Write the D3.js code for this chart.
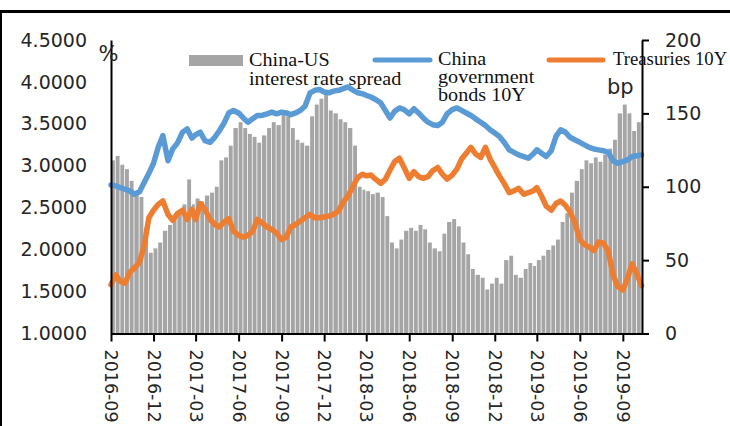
<!DOCTYPE html>
<html>
<head>
<meta charset="utf-8">
<script src="https://cdn.jsdelivr.net/npm/d3@7"></script>
<style>
  html, body { margin: 0; padding: 0; background: #fff; }
  svg { display: block; }
</style>
</head>
<body>
<script>
// Quarter labels on the date axis
const tickLabels = ["2016-09", "2016-12", "2017-03", "2017-06", "2017-09", "2017-12",
  "2018-03", "2018-06", "2018-09", "2018-12", "2019-03", "2019-06", "2019-09"];

// Left-axis ticks (%) and right-axis ticks (bp)
const leftTicks = [1.0, 1.5, 2.0, 2.5, 3.0, 3.5, 4.0, 4.5];
const rightTicks = [0, 50, 100, 150, 200];

// China government bonds 10Y yield, %, sampled on the 1st, 11th and 21st of each month
const china10y = [
  2.77, 2.76, 2.74, 2.72, 2.70, 2.66, 2.69, 2.80, 2.91, 3.03, 3.22, 3.36,
  3.06, 3.20, 3.27, 3.40, 3.44, 3.33, 3.37, 3.40, 3.30, 3.28, 3.34, 3.42,
  3.51, 3.63, 3.66, 3.63, 3.57, 3.52, 3.56, 3.60, 3.60, 3.62, 3.64, 3.62,
  3.64, 3.63, 3.61, 3.63, 3.66, 3.71, 3.87, 3.90, 3.91, 3.88, 3.87, 3.89,
  3.90, 3.92, 3.94, 3.90, 3.87, 3.86, 3.84, 3.82, 3.79, 3.75, 3.66, 3.57,
  3.65, 3.69, 3.67, 3.62, 3.68, 3.63, 3.57, 3.52, 3.49, 3.48, 3.52, 3.62,
  3.67, 3.69, 3.66, 3.63, 3.60, 3.56, 3.52, 3.48, 3.43, 3.39, 3.35, 3.28,
  3.19, 3.16, 3.13, 3.11, 3.09, 3.14, 3.19, 3.15, 3.11, 3.18, 3.35, 3.43,
  3.40, 3.34, 3.31, 3.28, 3.25, 3.22, 3.20, 3.19, 3.18, 3.16, 3.06, 3.03,
  3.05, 3.07, 3.11, 3.12, 3.13
];

// US Treasuries 10Y yield, %, same dates
const us10y = [
  1.58, 1.70, 1.62, 1.60, 1.73, 1.78, 1.85, 2.05, 2.38, 2.47, 2.54, 2.58,
  2.42, 2.35, 2.43, 2.47, 2.36, 2.48, 2.36, 2.55, 2.48, 2.36, 2.30, 2.27,
  2.33, 2.37, 2.22, 2.17, 2.15, 2.17, 2.22, 2.36, 2.32, 2.27, 2.24, 2.20,
  2.12, 2.15, 2.27, 2.30, 2.34, 2.38, 2.42, 2.38, 2.38, 2.39, 2.40, 2.42,
  2.46, 2.57, 2.64, 2.76, 2.86, 2.90, 2.88, 2.89, 2.84, 2.79, 2.84, 2.95,
  3.05, 3.09, 2.98, 2.85, 2.93, 2.87, 2.85, 2.87, 2.94, 2.98, 2.90, 2.84,
  2.89, 2.96, 3.08, 3.15, 3.22, 3.14, 3.10, 3.22, 3.08, 2.98, 2.88, 2.79,
  2.68, 2.70, 2.73, 2.66, 2.68, 2.70, 2.74, 2.64, 2.52, 2.47, 2.55, 2.58,
  2.53, 2.45, 2.33, 2.12, 2.06, 2.03, 1.99, 2.09, 2.08, 1.98, 1.70, 1.56,
  1.52, 1.66, 1.83, 1.71, 1.57
];

// China-US 10Y interest rate spread, bp, same dates
const spreadBp = [
  118, 121, 115, 112, 104, 95, 93, 72, 55, 58, 62, 70,
  74, 80, 82, 88, 105, 88, 92, 90, 94, 96, 100, 118,
  120, 128, 140, 144, 140, 136, 134, 130, 135, 140, 144, 142,
  150, 148, 140, 132, 130, 128, 148, 156, 160, 164, 152, 150,
  146, 144, 140, 128, 100, 98, 97, 95, 96, 93, 80, 62,
  58, 64, 70, 72, 70, 74, 71, 62, 58, 56, 68, 76,
  78, 73, 62, 54, 44, 40, 38, 30, 34, 38, 34, 50,
  53, 40, 38, 44, 48, 46, 50, 53, 57, 60, 64, 76,
  82, 96, 104, 112, 118, 116, 120, 117, 122, 126, 132, 150,
  156, 150, 138, 144, 146
];

// Observation dates: 1st, 11th and 21st of each month from Sep 2016
const dates = d3.utcMonth.range(new Date(Date.UTC(2016, 8, 1)), new Date(Date.UTC(2019, 10, 1)))
  .flatMap(m => [1, 11, 21].map(day => new Date(Date.UTC(m.getUTCFullYear(), m.getUTCMonth(), day))))
  .slice(0, china10y.length);

const W = 730, H = 426;
const axisFont = "'DejaVu Sans', Verdana, sans-serif";
const legendFont = "'Liberation Serif', 'Times New Roman', serif";
const textColor = "#262626";
const gray = "#a5a5a5", blue = "#5b9bd5", orange = "#ed7d31";

const svg = d3.select("body").append("svg")
  .attr("width", W).attr("height", H);

// Frame: heavy top rule and thin left rule
svg.append("line").attr("x1", 0).attr("x2", W).attr("y1", 11.5).attr("y2", 11.5)
  .attr("stroke", "#000").attr("stroke-width", 3);
svg.append("line").attr("x1", 1).attr("x2", 1).attr("y1", 10).attr("y2", H)
  .attr("stroke", "#000").attr("stroke-width", 2);

const x = d3.scaleUtc()
  .domain([new Date(Date.UTC(2016, 8, 1)), new Date(Date.UTC(2019, 9, 12))])
  .range([111, 642]);
const yL = d3.scaleLinear().domain([1, 4.5]).range([333.5, 40]);
const yR = d3.scaleLinear().domain([0, 200]).range([333.5, 40]);

// Spread bars on the right axis
const rows = dates.map((d, i) => ({ date: d, cn: china10y[i], us: us10y[i], sp: spreadBp[i] }));
svg.append("g").selectAll("rect").data(rows).join("rect")
  .attr("x", d => x(d.date))
  .attr("width", (d, i) => {
    const next = i < rows.length - 1 ? x(rows[i + 1].date) : x.range()[1];
    return Math.max(0.5, next - x(d.date) - 0.8);
  })
  .attr("y", d => yR(d.sp))
  .attr("height", d => yR(0) - yR(d.sp))
  .attr("fill", gray);

// Yield lines on the left axis
const lineCn = d3.line().x(d => x(d.date)).y(d => yL(d.cn));
const lineUs = d3.line().x(d => x(d.date)).y(d => yL(d.us));
svg.append("path").datum(rows).attr("d", lineCn)
  .attr("fill", "none").attr("stroke", blue).attr("stroke-width", 5.5)
  .attr("stroke-linejoin", "round").attr("stroke-linecap", "round");
svg.append("path").datum(rows).attr("d", lineUs)
  .attr("fill", "none").attr("stroke", orange).attr("stroke-width", 5.5)
  .attr("stroke-linejoin", "round").attr("stroke-linecap", "round");

// Axes
function styleAxis(g, size) {
  g.selectAll(".domain").attr("stroke", "#000").attr("stroke-width", 2);
  g.selectAll(".tick line").attr("stroke", "#000").attr("stroke-width", 2);
  g.selectAll(".tick text").attr("fill", textColor)
    .style("font-family", axisFont).style("font-size", size);
}

const parseMonth = d3.utcParse("%Y-%m");
const xAxis = svg.append("g").attr("transform", "translate(0,333.5)")
  .call(d3.axisBottom(x)
    .tickValues(tickLabels.map(parseMonth))
    .tickFormat(d3.utcFormat("%Y-%m"))
    .tickSize(8).tickSizeOuter(0));
styleAxis(xAxis, "17.5px");
xAxis.selectAll(".tick text")
  .attr("text-anchor", "start")
  .attr("x", 0).attr("y", 0)
  .attr("dy", "0.36em")
  .attr("transform", "translate(0,16) rotate(90)");

const leftAxis = svg.append("g").attr("transform", "translate(111,0)")
  .call(d3.axisLeft(yL).tickValues(leftTicks).tickFormat(d3.format(".4f"))
    .tickSize(0).tickSizeOuter(0).tickPadding(24));
styleAxis(leftAxis, "19px");

const rightAxis = svg.append("g").attr("transform", "translate(642,0)")
  .call(d3.axisRight(yR).tickValues(rightTicks).tickFormat(d3.format("d"))
    .tickSize(7).tickSizeOuter(0).tickPadding(16));
styleAxis(rightAxis, "19px");

// Unit labels
svg.append("text").attr("x", 108.5).attr("y", 61).attr("text-anchor", "middle")
  .style("font-family", axisFont).style("font-size", "21px").attr("fill", textColor)
  .text("%");
svg.append("text").attr("x", 607).attr("y", 94)
  .style("font-family", axisFont).style("font-size", "21px").attr("fill", textColor)
  .text("bp");

// Legend
const legend = svg.append("g");
legend.append("rect").attr("x", 189).attr("y", 55).attr("width", 54).attr("height", 11)
  .attr("fill", gray);
legend.append("line").attr("x1", 375).attr("x2", 430).attr("y1", 60).attr("y2", 60)
  .attr("stroke", blue).attr("stroke-width", 5).attr("stroke-linecap", "round");
legend.append("line").attr("x1", 549).attr("x2", 603).attr("y1", 60).attr("y2", 60)
  .attr("stroke", orange).attr("stroke-width", 5).attr("stroke-linecap", "round");

function legendLines(x0, baselines, lines, sx = 1.12) {
  lines.forEach((t, i) => {
    legend.append("text")
      .attr("transform", `translate(${x0},${baselines[i]}) scale(${sx},1)`)
      .style("font-family", legendFont).style("font-size", "18px")
      .attr("fill", "#111")
      .text(t);
  });
}
legendLines(249, [66, 85], ["China-US", "interest rate spread"]);
legendLines(438, [65, 83, 101], ["China", "government", "bonds 10Y"]);
legendLines(613, [65], ["Treasuries 10Y"], 1.04);
</script>
</body>
</html>
